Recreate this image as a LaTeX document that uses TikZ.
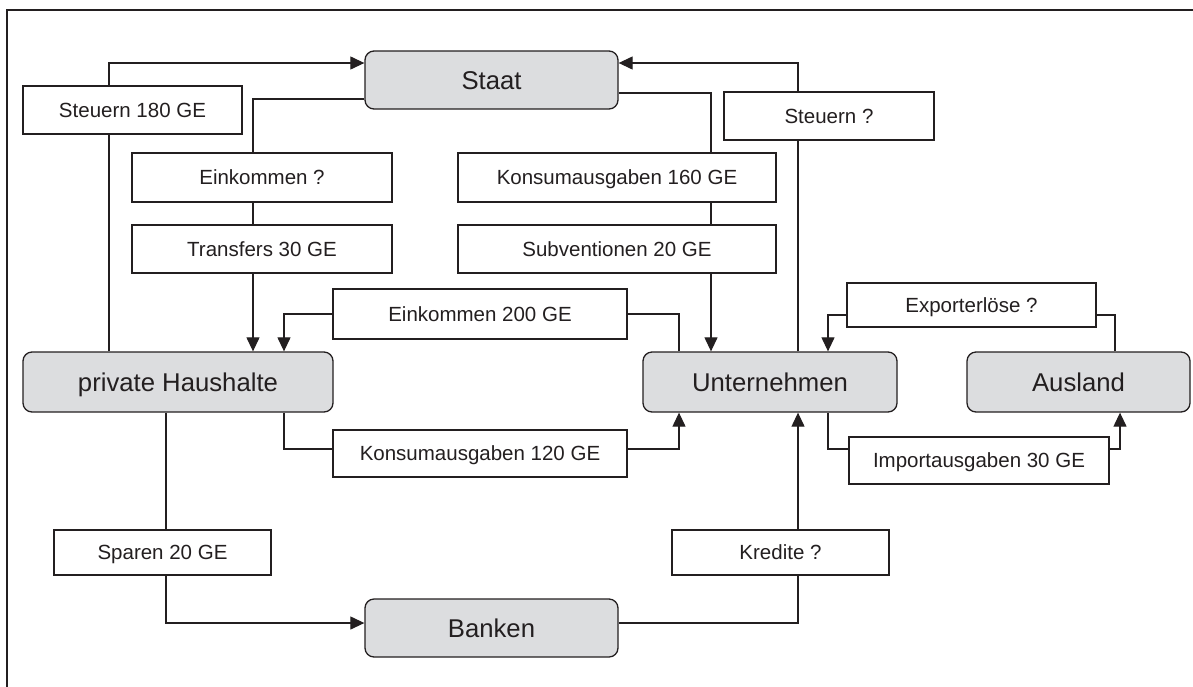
\documentclass[tikz,border=0pt]{standalone}
\usepackage{fontspec}
\setmainfont{Liberation Sans}
\usetikzlibrary{arrows.meta}
\definecolor{ln}{RGB}{35,31,32}
\definecolor{boxgray}{RGB}{220,221,223}
\tikzset{
  ent/.style={draw=ln, fill=boxgray, rounded corners=9pt, line width=1.3pt, inner sep=0pt,
    text=ln, font=\fontsize{25.7}{30}\selectfont, text height=18.4pt, text depth=0pt},
  flow/.style={draw=ln, fill=white, line width=1.2pt, inner sep=0pt,
    text=ln, font=\fontsize{20.5}{24}\selectfont, text height=14.7pt, text depth=0pt},
  conn/.style={draw=ln, line width=1.2pt},
  arr/.style={conn, -{Triangle[length=14pt,width=13pt]}}
}
\begin{document}
\begin{tikzpicture}[x=1pt,y=-1pt]
\useasboundingbox (0,0) rectangle (1193,686);
% frame
\draw[ln, line width=1.2pt] (7,700) -- (7,10) -- (1210,10);

% main sectors
\node[ent, minimum width=253pt, minimum height=58pt] (staat) at (491.5,80) {Staat};
\node[ent, minimum width=310pt, minimum height=60pt] (ph) at (178,382) {private Haushalte};
\node[ent, minimum width=254pt, minimum height=60pt] (unt) at (770,382) {Unternehmen};
\node[ent, minimum width=223pt, minimum height=60pt] (ausl) at (1078.5,382) {Ausland};
\node[ent, minimum width=253pt, minimum height=58pt] (bank) at (491.5,628) {Banken};

% flow labels
\node[flow, minimum width=219pt, minimum height=48pt] (st180) at (132.5,110) {Steuern 180 GE};
\node[flow, minimum width=260pt, minimum height=49pt] (eink) at (262,177.5) {Einkommen ?};
\node[flow, minimum width=260pt, minimum height=48pt] (transf) at (262,249) {Transfers 30 GE};
\node[flow, minimum width=318pt, minimum height=49pt] (kons160) at (617,177.5) {Konsumausgaben 160 GE};
\node[flow, minimum width=318pt, minimum height=48pt] (subv) at (617,249) {Subventionen 20 GE};
\node[flow, minimum width=210pt, minimum height=48pt] (steu) at (829,116) {Steuern ?};
\node[flow, minimum width=294pt, minimum height=50pt] (e200) at (480,314) {Einkommen 200 GE};
\node[flow, minimum width=294pt, minimum height=47pt] (k120) at (480,453.5) {Konsumausgaben 120 GE};
\node[flow, minimum width=249pt, minimum height=44pt] (exp) at (971.5,305) {Exporterlöse ?};
\node[flow, minimum width=260pt, minimum height=47pt] (imp) at (979,460.5) {Importausgaben 30 GE};
\node[flow, minimum width=217pt, minimum height=45pt] (spar) at (162.5,552.5) {Sparen 20 GE};
\node[flow, minimum width=217pt, minimum height=45pt] (kred) at (780.5,552.5) {Kredite ?};

% helper coordinates for connector routes
\coordinate (xA) at (109,0);
\coordinate (xB) at (253,0);
\coordinate (xC) at (711,0);
\coordinate (xD) at (798,0);
\coordinate (xE) at (284,0);
\coordinate (xF) at (679,0);
\coordinate (xG) at (166,0);
\coordinate (xH) at (828,0);
\coordinate (xI) at (1115,0);
\coordinate (xJ) at (1120,0);
\coordinate (yS1) at (0,63);
\coordinate (yS2) at (0,99);
\coordinate (yS3) at (0,93);
\coordinate (yK) at (0,449);
\coordinate (yX) at (0,315);
\coordinate (yB) at (0,623);

% Steuern 180 GE
\draw[conn] (ph.north -| xA) -- (st180.south -| xA);
\draw[arr] (st180.north -| xA) |- (staat.west |- yS1);
% Einkommen ? / Transfers
\draw[conn] (staat.west |- yS2) -| (eink.north -| xB);
\draw[conn] (eink.south -| xB) -- (transf.north -| xB);
\draw[arr] (transf.south -| xB) -- (ph.north -| xB);
% Konsumausgaben 160 / Subventionen
\draw[conn] (staat.east |- yS3) -| (kons160.north -| xC);
\draw[conn] (kons160.south -| xC) -- (subv.north -| xC);
\draw[arr] (subv.south -| xC) -- (unt.north -| xC);
% Steuern ?
\draw[conn] (unt.north -| xD) -- (steu.south -| xD);
\draw[arr] (steu.north -| xD) |- (staat.east |- yS1);
% Einkommen 200
\draw[conn] (unt.north -| xF) |- (e200.east);
\draw[arr] (e200.west) -| (ph.north -| xE);
% Konsumausgaben 120
\draw[conn] (ph.south -| xE) |- (k120.west |- yK);
\draw[arr] (k120.east |- yK) -| (unt.south -| xF);
% Exporterloese
\draw[conn] (ausl.north -| xI) |- (exp.east |- yX);
\draw[arr] (exp.west |- yX) -| (unt.north -| xH);
% Importausgaben
\draw[conn] (unt.south -| xH) |- (imp.west |- yK);
\draw[arr] (imp.east |- yK) -| (ausl.south -| xJ);
% Sparen
\draw[conn] (ph.south -| xG) -- (spar.north -| xG);
\draw[arr] (spar.south -| xG) |- (bank.west |- yB);
% Kredite
\draw[conn] (bank.east |- yB) -| (kred.south -| xD);
\draw[arr] (kred.north -| xD) -- (unt.south -| xD);
\end{tikzpicture}
\end{document}
